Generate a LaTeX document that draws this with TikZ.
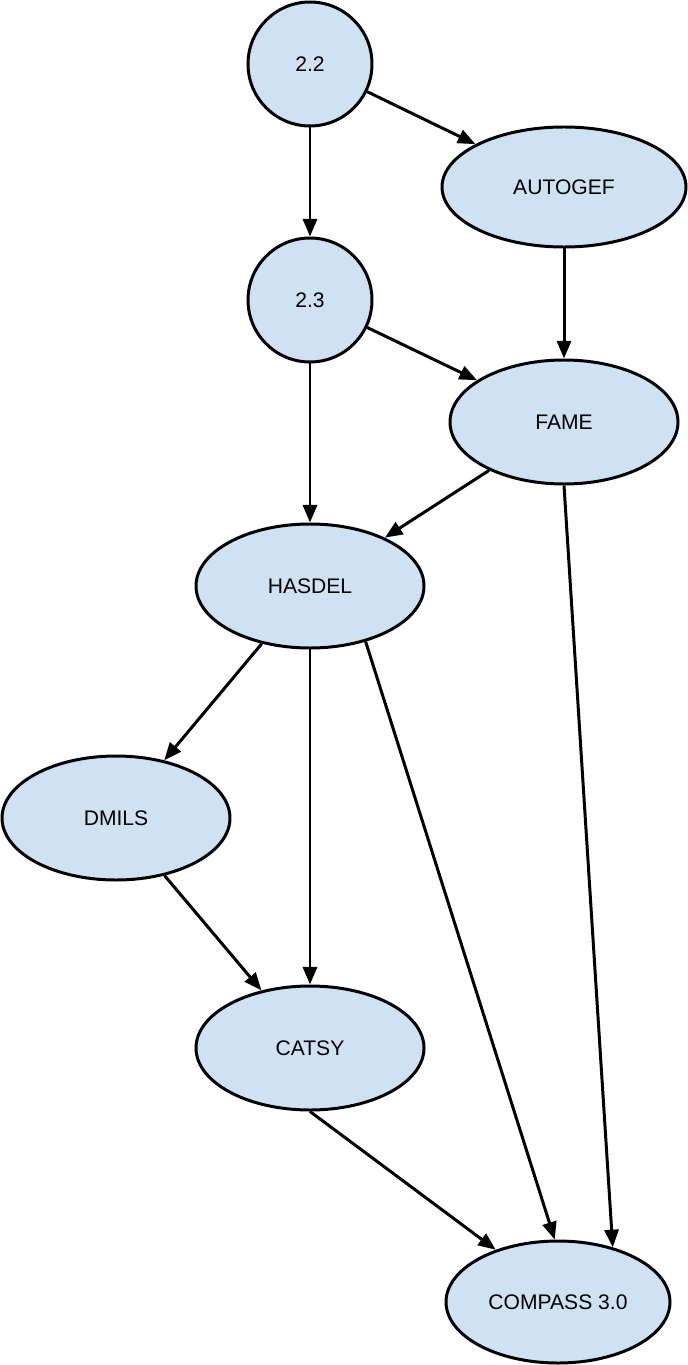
\documentclass[tikz,border=0pt]{standalone}
\usepackage{fontspec}
\setmainfont{Liberation Sans}
\usetikzlibrary{arrows.meta,shapes.geometric}
\definecolor{nodeblue}{RGB}{207,226,243}
\tikzset{>/.tip={Triangle[length=10pt,width=8pt]}}
\tikzset{blob/.style={ellipse,draw,line width=1.7pt,fill=nodeblue,inner sep=0pt,
  font=\fontsize{12}{14}\selectfont}}
\begin{document}
\begin{tikzpicture}[x=0.02cm,y=-0.02cm,line width=1.7pt]
      \useasboundingbox (0,0) rectangle (688,1365);
      \node[blob,minimum width=124*0.02cm,minimum height=124*0.02cm](v22) at (310,64){2.2};
      \node[blob,minimum width=244*0.02cm,minimum height=120*0.02cm](autogef) at (564,187){AUTOGEF};
      \node[blob,minimum width=124*0.02cm,minimum height=124*0.02cm](v23) at (310,300){2.3};
      \node[blob,minimum width=228*0.02cm,minimum height=124*0.02cm](fame) at (564,422){FAME};
      \node[blob,minimum width=228*0.02cm,minimum height=124*0.02cm](hasdel) at (310,586){HASDEL};
      \node[blob,minimum width=228*0.02cm,minimum height=124*0.02cm](dmils) at (116,818){DMILS};
      \node[blob,minimum width=228*0.02cm,minimum height=124*0.02cm](catsy) at (310,1048){CATSY};
      \node[blob,minimum width=224*0.02cm,minimum height=122*0.02cm](compass) at (558,1302){COMPASS 3.0};

      \draw[->] (v22) -- (autogef);
      \draw[->] (v22) -- (v23);
      \draw[->] (autogef) -- (fame);
      \draw[->] (v23) -- (fame);
      \draw[->] (v23) -- (hasdel);
      \draw[->] (fame) -- (hasdel);
      \draw[->] (fame.south) -- (compass.45);
      \draw[->] (hasdel) -- (dmils);
      \draw[->] (hasdel) -- (catsy);
      \draw[->] (hasdel.-45) -- (compass.93);
      \draw[->] (dmils) -- (catsy);
      \draw[->] (catsy.south) -- (compass.140);
    \end{tikzpicture}
\end{document}
